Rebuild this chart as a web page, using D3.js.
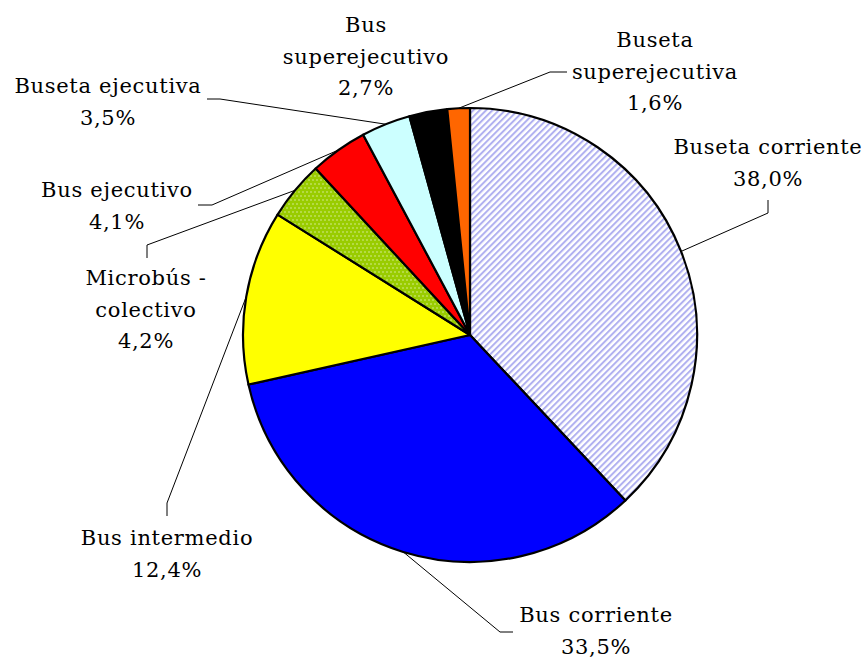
<!DOCTYPE html>
<html>
<head>
<meta charset="utf-8">
<script src="https://cdn.jsdelivr.net/npm/d3@7"></script>
<style>
  body { margin: 0; background: #fff; }
  text { font-family: "DejaVu Serif", serif; font-size: 21px; letter-spacing: 0.7px; fill: #000; }
</style>
</head>
<body>
<div id="chart"></div>
<script>
var w = 864;
var h = 658;

// data, clockwise from 12 o'clock
var categories = ["Buseta corriente", "Bus corriente", "Bus intermedio", "Microbús - colectivo",
                  "Bus ejecutivo", "Buseta ejecutiva", "Bus superejecutivo", "Buseta superejecutiva"];
var values = [38.0, 33.5, 12.4, 4.2, 4.1, 3.5, 2.7, 1.6];
var labelLines = [["Buseta corriente"], ["Bus corriente"], ["Bus intermedio"], ["Microbús -", "colectivo"],
                  ["Bus ejecutivo"], ["Buseta ejecutiva"], ["Bus", "superejecutivo"], ["Buseta", "superejecutiva"]];

// layout (not data): fills, label anchors and leader elbows
var fills = ["url(#hatch)", "#0000ff", "#ffff00", "url(#dots)", "#ff0000", "#ccffff", "#000000", "#ff6600"];
var labelPos = [[768, 154], [596, 622], [167, 545], [146, 285], [117, 197], [108, 93], [366, 32], [655, 47]];
var leaders = [
  [[768, 213], [768, 200]],
  [[500, 632], [513, 632]],
  [[167, 503], [167, 516]],
  [[147, 245], [147, 258]],
  [[212, 205], [198, 205]],
  [[220, 99], [207, 99]],
  null,
  [[550, 72], [567, 72]]
];

var cx = 470, cy = 335, r = 227;
var lineH = 31.5;

var svg = d3.select("#chart")
  .append("svg")
  .attr("width", w)
  .attr("height", h);

var defs = svg.append("defs");
var hatch = defs.append("pattern")
  .attr("id", "hatch")
  .attr("patternUnits", "userSpaceOnUse")
  .attr("width", 4.5)
  .attr("height", 4.5)
  .attr("patternTransform", "rotate(45)");
hatch.append("rect").attr("width", 4.5).attr("height", 4.5).attr("fill", "#fff");
hatch.append("rect").attr("width", 2).attr("height", 4.5).attr("fill", "#b0b0f0");

var dots = defs.append("pattern")
  .attr("id", "dots")
  .attr("patternUnits", "userSpaceOnUse")
  .attr("width", 4)
  .attr("height", 8);
dots.append("rect").attr("width", 4).attr("height", 8).attr("fill", "#99cc00");
dots.append("circle").attr("cx", 1).attr("cy", 1).attr("r", 0.7).attr("fill", "#e8f5c0");
dots.append("circle").attr("cx", 3).attr("cy", 5).attr("r", 0.7).attr("fill", "#e8f5c0");

var pie = d3.pie().sort(null).value(function(d) { return d; });
var arcs = pie(values);
var arc = d3.arc().innerRadius(0).outerRadius(r);
var edge = d3.arc().innerRadius(r).outerRadius(r);

var g = svg.append("g").attr("transform", "translate(" + cx + "," + cy + ")");

g.selectAll("path.slice")
  .data(arcs)
  .enter()
  .append("path")
  .attr("class", "slice")
  .attr("d", arc)
  .attr("fill", function(d, i) { return fills[i]; })
  .attr("stroke", "#000")
  .attr("stroke-width", 2.2)
  .attr("stroke-linejoin", "round");

// leader lines from the slice edge to the label
var line = d3.line();
arcs.forEach(function(d, i) {
  if (!leaders[i]) return;
  var c = edge.centroid(d);
  var pts = [[cx + c[0], cy + c[1]]].concat(leaders[i]);
  svg.append("path")
    .attr("d", line(pts))
    .attr("fill", "none")
    .attr("stroke", "#000")
    .attr("stroke-width", 1);
});

// labels
arcs.forEach(function(d, i) {
  var lines = labelLines[i].concat([d3.format(".1f")(values[i]).replace(".", ",") + "%"]);
  var t = svg.append("text")
    .attr("x", labelPos[i][0])
    .attr("y", labelPos[i][1])
    .attr("text-anchor", "middle");
  lines.forEach(function(s, k) {
    t.append("tspan")
      .attr("x", labelPos[i][0])
      .attr("dy", k === 0 ? 0 : lineH)
      .text(s);
  });
});
</script>
</body>
</html>
